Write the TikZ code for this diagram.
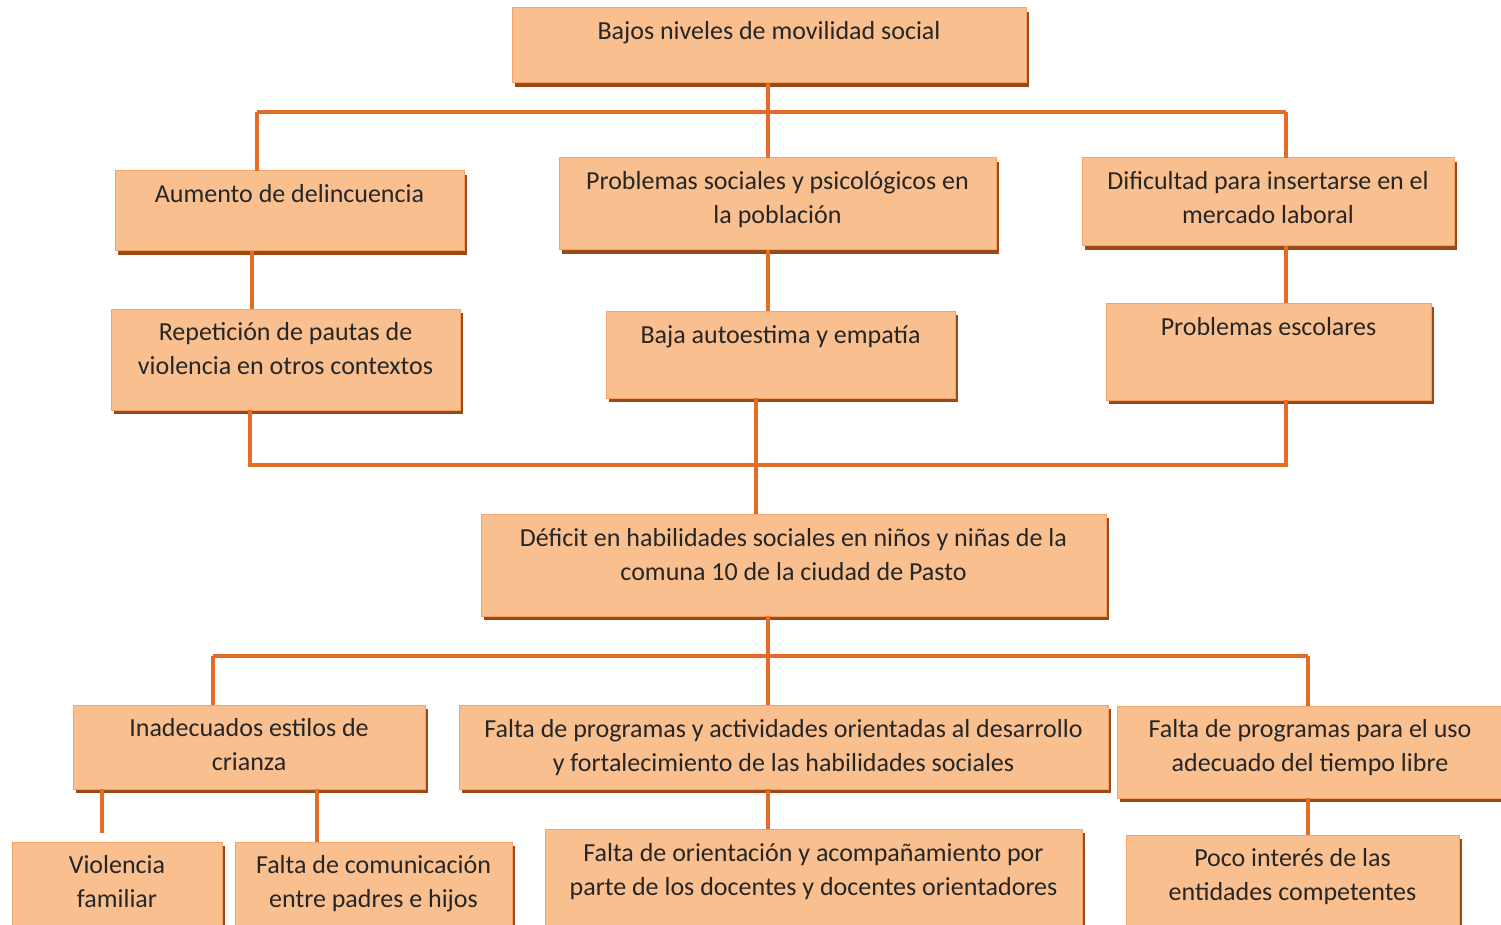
\documentclass[tikz,border=0pt]{standalone}
\usepackage{fontspec}
\setmainfont{Carlito}
\usetikzlibrary{shadows}
\definecolor{boxfill}{HTML}{F9BF8F}
\definecolor{boxline}{HTML}{F4A36A}
\definecolor{shadowc}{HTML}{9A4A12}
\definecolor{linkc}{HTML}{E46C24}
\definecolor{txtc}{HTML}{262626}
% #6 = baseline of the last text line
\newcommand\obox[7]{%
  \node[bx, minimum width={(#4-#2)*1pt}, minimum height={(#5-#3)*1pt}] (#1) at (#2,#3) {};
  \node[txt] (#1t) at ({(#2+#4)/2},#6) {#7};}
\begin{document}
\begin{tikzpicture}[x=1pt,y=-1pt,
  bx/.style={draw=boxline, line width=1pt, fill=boxfill,
    drop shadow={fill=shadowc, opacity=1, shadow xshift=3pt, shadow yshift=-4pt},
    inner sep=0pt, outer sep=0pt, anchor=north west},
  txt/.style={font=\fontsize{26}{34}\selectfont, text=txtc, align=center, anchor=base, inner sep=0pt},
  link/.style={draw=linkc, line width=3.5pt}]
\useasboundingbox (0,0) rectangle (1501,925);
\clip (0,0) rectangle (1501,925);
\fill[white] (0,0) rectangle (1501,925);
% boxes
\obox{top}{512}{8}{1026}{83}{40}{Bajos niveles de movilidad social}
\obox{aum}{115}{171}{464}{251}{203}{Aumento de delincuencia}
\obox{pso}{559}{158}{996}{250}{224}{Problemas sociales y psicológicos en\\la población}
\obox{dif}{1082}{158}{1454}{246}{224}{Dificultad para insertarse en el\\mercado laboral}
\obox{rep}{111}{309}{460}{410}{374}{Repetición de pautas de\\violencia en otros contextos}
\obox{baj}{606}{311}{955}{398}{343}{Baja autoestima y empatía}
\obox{esc}{1106}{303}{1431}{400}{335}{Problemas escolares}
\obox{def}{481}{514}{1106}{616}{580}{Déficit en habilidades sociales en niños y niñas de la\\comuna 10 de la ciudad de Pasto}
\obox{ina}{73}{705}{425}{789}{770}{Inadecuados estilos de\\crianza}
\obox{fpr}{459}{705}{1108}{789}{771}{Falta de programas y actividades orientadas al desarrollo\\y fortalecimiento de las habilidades sociales}
\obox{ftl}{1117}{706}{1503}{798}{771}{Falta de programas para el uso\\adecuado del tiempo libre}
\obox{vio}{12}{842}{222}{940}{907}{Violencia\\familiar}
\obox{com}{235}{842}{512}{940}{907}{Falta de comunicación\\entre padres e hijos}
\obox{ori}{545}{829}{1082}{940}{895}{Falta de orientación y acompañamiento por\\parte de los docentes y docentes orientadores}
\obox{poc}{1126}{835}{1459}{940}{900}{Poco interés de las\\entidades competentes}
% junctions
\coordinate (b1L) at (257,112);
\coordinate (b1C) at (768,112);
\coordinate (b1R) at (1286,112);
\coordinate (c1) at (252,0);
\coordinate (b2L) at (250,465);
\coordinate (b2C) at (756,465);
\coordinate (b2R) at (1286,465);
\coordinate (b3L) at (213,656);
\coordinate (b3C) at (768,656);
\coordinate (b3R) at (1308,656);
\coordinate (e1) at (102,833);
\coordinate (e2) at (317,0);
% connectors
\draw[link] (top.south -| b1C) -- (b1C);
\draw[link] (b1L) -- (b1R);
\draw[link] (b1L) -- (aum.north -| b1L);
\draw[link] (b1C) -- (pso.north -| b1C);
\draw[link] (b1R) -- (dif.north -| b1R);
\draw[link] (aum.south -| c1) -- (rep.north -| c1);
\draw[link] (pso.south -| b1C) -- (baj.north -| b1C);
\draw[link] (dif.south -| b1R) -- (esc.north -| b1R);
\draw[link] (rep.south -| b2L) -- (b2L) -- (b2R) -- (esc.south -| b2R);
\draw[link] (baj.south -| b2C) -- (def.north -| b2C);
\draw[link] (def.south -| b3C) -- (b3C);
\draw[link] (b3L) -- (b3R);
\draw[link] (b3L) -- (ina.north -| b3L);
\draw[link] (b3C) -- (fpr.north -| b3C);
\draw[link] (b3R) -- (ftl.north -| b3R);
\draw[link] (ina.south -| e1) -- (e1);
\draw[link] (ina.south -| e2) -- (com.north -| e2);
\draw[link] (fpr.south -| b3C) -- (ori.north -| b3C);
\draw[link] (ftl.south -| b3R) -- (poc.north -| b3R);
\end{tikzpicture}
\end{document}
